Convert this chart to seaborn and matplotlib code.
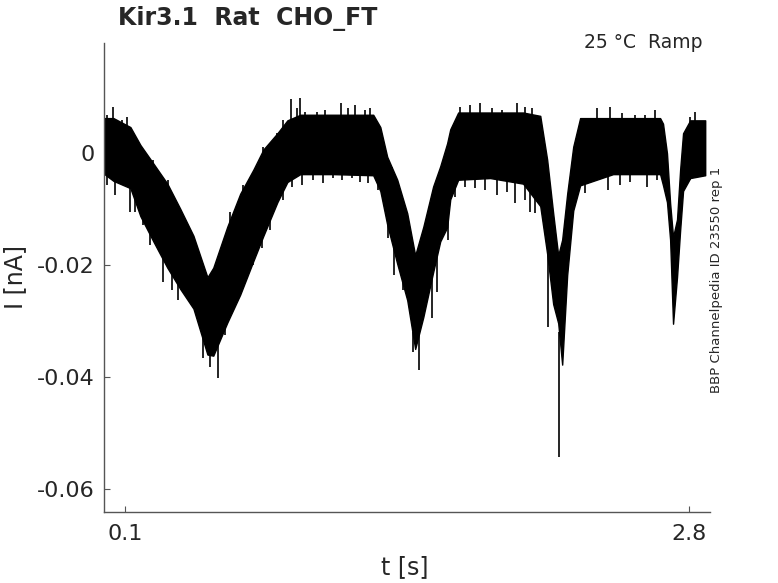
import numpy as np
import matplotlib
matplotlib.use("Agg")
import matplotlib.pyplot as plt
import seaborn as sns

# coeur de la bande de courant
t_env = [0.000, 0.043, 0.124, 0.172, 0.234, 0.301, 0.363, 0.426, 0.493, 0.521,
         0.588, 0.650, 0.713, 0.761, 0.828, 0.876, 0.938, 1.096, 1.287, 1.321,
         1.354, 1.402, 1.450, 1.488, 1.527, 1.574, 1.608, 1.641, 1.656, 1.694,
         1.847, 2.005, 2.087, 2.120, 2.149, 2.173, 2.192, 2.216, 2.245, 2.278,
         2.436, 2.661, 2.675, 2.694, 2.709, 2.723, 2.742, 2.757, 2.771, 2.805,
         2.877]
i_haut = [0.0062, 0.0062, 0.0046, 0.0014, -0.0019, -0.0055, -0.0100, -0.0148, -0.0222, -0.0205,
          -0.0132, -0.0073, -0.0030, 0.0006, 0.0035, 0.0058, 0.0068, 0.0068, 0.0068, 0.0046,
          -0.0007, -0.0048, -0.0108, -0.0183, -0.0132, -0.0060, -0.0024, 0.0017, 0.0042, 0.0072,
          0.0072, 0.0072, 0.0066, -0.0012, -0.0108, -0.0183, -0.0155, -0.0073, 0.0011, 0.0062,
          0.0062, 0.0062, 0.0052, -0.0001, -0.0090, -0.0150, -0.0119, -0.0030, 0.0035, 0.0058,
          0.0058]
i_bas = [-0.0038, -0.0050, -0.0063, -0.0113, -0.0158, -0.0205, -0.0243, -0.0278, -0.0360, -0.0362,
         -0.0303, -0.0253, -0.0193, -0.0148, -0.0088, -0.0052, -0.0038, -0.0038, -0.0040, -0.0068,
         -0.0128, -0.0198, -0.0263, -0.0350, -0.0293, -0.0213, -0.0158, -0.0133, -0.0083, -0.0048,
         -0.0045, -0.0055, -0.0095, -0.0180, -0.0270, -0.0304, -0.0378, -0.0218, -0.0103, -0.0058,
         -0.0038, -0.0038, -0.0058, -0.0088, -0.0155, -0.0305, -0.0222, -0.0138, -0.0068, -0.0045,
         -0.0040]

# bruit vers le haut : temps, pointe, base
t_poil_haut = [0.014, 0.043, 0.086, 0.110, 0.138, 0.186, 0.234, 0.306, 0.363, 0.603,
               0.665, 0.732, 0.761, 0.828, 0.856, 0.895, 0.923, 0.938, 0.962, 1.019,
               1.057, 1.134, 1.167, 1.201, 1.249, 1.273, 1.335, 1.378, 1.704, 1.752,
               1.799, 1.857, 1.905, 1.977, 2.015, 2.048, 2.359, 2.422, 2.479, 2.541,
               2.589, 2.637, 2.805, 2.829]
poil_haut = [0.0068, 0.0082, 0.0059, 0.0064, 0.0018, 0.0002, -0.0013, -0.0048, -0.0102, -0.0105,
             -0.0057, -0.0027, 0.0011, 0.0036, 0.0059, 0.0096, 0.0080, 0.0098, 0.0073, 0.0073,
             0.0077, 0.0089, 0.0080, 0.0086, 0.0077, 0.0080, 0.0009, -0.0025, 0.0082, 0.0086,
             0.0089, 0.0080, 0.0077, 0.0089, 0.0082, 0.0080, 0.0080, 0.0082, 0.0071, 0.0068,
             0.0068, 0.0077, 0.0064, 0.0073]
base_haut = [0.0050, 0.0050, 0.0045, 0.0040, 0.0010, -0.0005, -0.0030, -0.0065, -0.0110, -0.0125,
             -0.0075, -0.0035, 0.0000, 0.0025, 0.0040, 0.0050, 0.0055, 0.0055, 0.0055, 0.0055,
             0.0055, 0.0055, 0.0055, 0.0055, 0.0055, 0.0055, 0.0000, -0.0035, 0.0060, 0.0060,
             0.0060, 0.0060, 0.0060, 0.0060, 0.0060, 0.0060, 0.0050, 0.0050, 0.0050, 0.0050,
             0.0050, 0.0050, 0.0045, 0.0045]

# bruit vers le bas : temps, pointe, base
t_poil_bas = [0.014, 0.052, 0.090, 0.124, 0.148, 0.186, 0.220, 0.282, 0.325, 0.354,
              0.473, 0.507, 0.545, 0.579, 0.627, 0.684, 0.713, 0.756, 0.794, 0.856,
              0.899, 0.947, 1.000, 1.048, 1.096, 1.139, 1.187, 1.226, 1.263, 1.311,
              1.359, 1.388, 1.431, 1.479, 1.507, 1.570, 1.594, 1.646, 1.680, 1.728,
              1.775, 1.823, 1.881, 1.929, 1.967, 2.015, 2.039, 2.063, 2.096, 2.125,
              2.178, 2.302, 2.350, 2.412, 2.470, 2.517, 2.599, 2.647, 2.805, 2.852]
poil_bas = [-0.0057, -0.0075, -0.0057, -0.0105, -0.0105, -0.0129, -0.0164, -0.0230, -0.0245, -0.0263,
            -0.0366, -0.0382, -0.0402, -0.0325, -0.0263, -0.0196, -0.0200, -0.0170, -0.0138, -0.0084,
            -0.0061, -0.0057, -0.0048, -0.0054, -0.0045, -0.0048, -0.0045, -0.0052, -0.0054, -0.0066,
            -0.0152, -0.0218, -0.0245, -0.0355, -0.0388, -0.0295, -0.0248, -0.0155, -0.0079, -0.0061,
            -0.0063, -0.0066, -0.0075, -0.0070, -0.0089, -0.0084, -0.0105, -0.0107, -0.0089, -0.0311,
            -0.0543, -0.0071, -0.0045, -0.0066, -0.0057, -0.0052, -0.0061, -0.0048, -0.0048, -0.0043]
base_bas = [-0.0035, -0.0040, -0.0045, -0.0055, -0.0080, -0.0110, -0.0140, -0.0180, -0.0210, -0.0230,
            -0.0320, -0.0345, -0.0335, -0.0295, -0.0260, -0.0210, -0.0185, -0.0145, -0.0110, -0.0055,
            -0.0040, -0.0030, -0.0025, -0.0025, -0.0025, -0.0025, -0.0025, -0.0025, -0.0030, -0.0045,
            -0.0125, -0.0170, -0.0230, -0.0320, -0.0320, -0.0210, -0.0170, -0.0110, -0.0050, -0.0035,
            -0.0035, -0.0035, -0.0035, -0.0040, -0.0040, -0.0045, -0.0050, -0.0060, -0.0080, -0.0180,
            -0.0320, -0.0045, -0.0030, -0.0025, -0.0025, -0.0025, -0.0025, -0.0025, -0.0035, -0.0030]

yticks = [-0.06, -0.04, -0.02, 0]
ytick_labels = ['-0.06', '-0.04', '-0.02', '0']
xticks = [0.1, 2.8]
xtick_labels = ['0.1', '2.8']

sns.set_style("ticks")
plt.rcParams['font.family'] = ['DejaVu Sans']

fig = plt.figure(figsize=(7.78, 5.83), dpi=100)
ax = fig.add_axes([0.1343, 0.1218, 0.7783, 0.8044])

ax.fill_between(t_env, i_bas, i_haut, color='black', linewidth=1.0, edgecolor='black')
ax.vlines(t_poil_bas, poil_bas, base_bas, color='black', linewidth=1.2)
ax.vlines(t_poil_haut, base_haut, poil_haut, color='black', linewidth=1.2)

ax.set_xlim(0, 2.9)
ax.set_ylim(-0.0641, 0.0196)
ax.set_xticks(xticks)
ax.set_xticklabels(xtick_labels)
ax.set_yticks(yticks)
ax.set_yticklabels(ytick_labels)

sns.despine(ax=ax)
for s in ['left', 'bottom']:
    ax.spines[s].set_color('#555555')
    ax.spines[s].set_linewidth(1.0)
ax.tick_params(direction='in', length=4.5, width=0.8, colors='#555555',
               labelsize=16, labelcolor='#262626')
ax.tick_params(axis='y', pad=7)
ax.tick_params(axis='x', pad=9)

ax.set_xlabel('t [s]', fontsize=17, color='#262626')
ax.xaxis.set_label_coords(0.496, -0.092)
ax.set_ylabel('I [nA]', fontsize=17, color='#262626')
ax.yaxis.set_label_coords(-0.128, 0.501)

ax.text(0.022, 1.053, 'Kir3.1  Rat  CHO_FT', transform=ax.transAxes,
        fontsize=17, fontweight='bold', ha='left', va='center')
ax.text(0.988, 1.002, '25 °C  Ramp', transform=ax.transAxes,
        fontsize=13.5, ha='right', va='center')
ax.text(1.010, 0.495, 'BBP Channelpedia ID 23550 rep 1', transform=ax.transAxes,
        fontsize=9.5, rotation=90, ha='center', va='center')

fig.savefig('out.png', dpi=100)
